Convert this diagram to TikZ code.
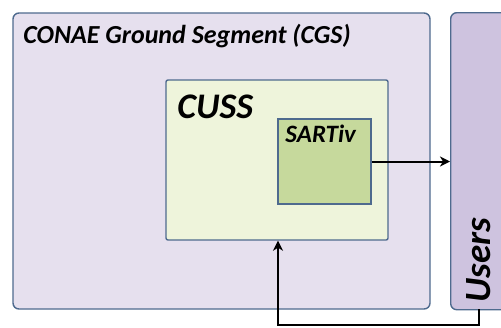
\documentclass[tikz,border=0pt]{standalone}
\usepackage{fontspec}
\setmainfont{Carlito}
\usepackage{tikz}
\usetikzlibrary{arrows.meta,positioning}
\definecolor{cgsfill}{HTML}{E6E0EE}
\definecolor{usersfill}{HTML}{CEC3DF}
\definecolor{cussfill}{HTML}{EEF4DB}
\definecolor{sartfill}{HTML}{C6D99C}
\definecolor{boxline}{HTML}{4E6A8E}
\tikzstyle{block} = [rectangle, draw=boxline, line width=0.7pt, inner sep=0pt]
\tikzstyle{label} = [inner sep=0pt, font=\bfseries\itshape]
\tikzstyle{arrow} = [line width=1pt,-{Stealth[length=5pt,width=5pt,inset=1.5pt]}]
\begin{document}
\begin{tikzpicture}[x=0.5pt, y=-0.5pt]
                            \clip (0,0) rectangle (501,327);
                            \node (cgs) [block, rounded corners=3pt, fill=cgsfill, minimum width=208.5pt, minimum height=148pt] at (221.5,161) {};
                            \node (users) [block, rounded corners=3pt, fill=usersfill, minimum width=40pt, minimum height=148.5pt, anchor=north west] at (450,12) {};
                            \node (cuss) [block, rounded corners=1pt, fill=cussfill, minimum width=111pt, minimum height=80pt] at (277,160) {};
                            \node (sart) [block, fill=sartfill, minimum width=46.5pt, minimum height=42.5pt] at (324.5,161.5) {};
                            \node (cgstext) [label, anchor=base west, font=\fontsize{13}{15}\selectfont\bfseries\itshape] at (23,43) {CONAE Ground Segment (CGS)};
                            \node (cusstext) [label, anchor=base west, font=\fontsize{18}{20}\selectfont\bfseries\itshape] at (177,118) {CUSS};
                            \node (sarttext) [label, anchor=base west, font=\fontsize{12.5}{14}\selectfont\bfseries\itshape] at (285,142) {SARTiv};
                            \node (userstext) [label, rotate=90, anchor=base, font=\fontsize{18.5}{20}\selectfont\bfseries\itshape] at (490,260) {Users};
                            \coordinate (u) at (479,309);
                            \coordinate (bend) at (278,325);
                            \draw [arrow] (sart.east) -- (sart.east -| users.west);
                            \draw [arrow] (u) |- (bend) -- (bend |- cuss.south);
                        \end{tikzpicture}
\end{document}
